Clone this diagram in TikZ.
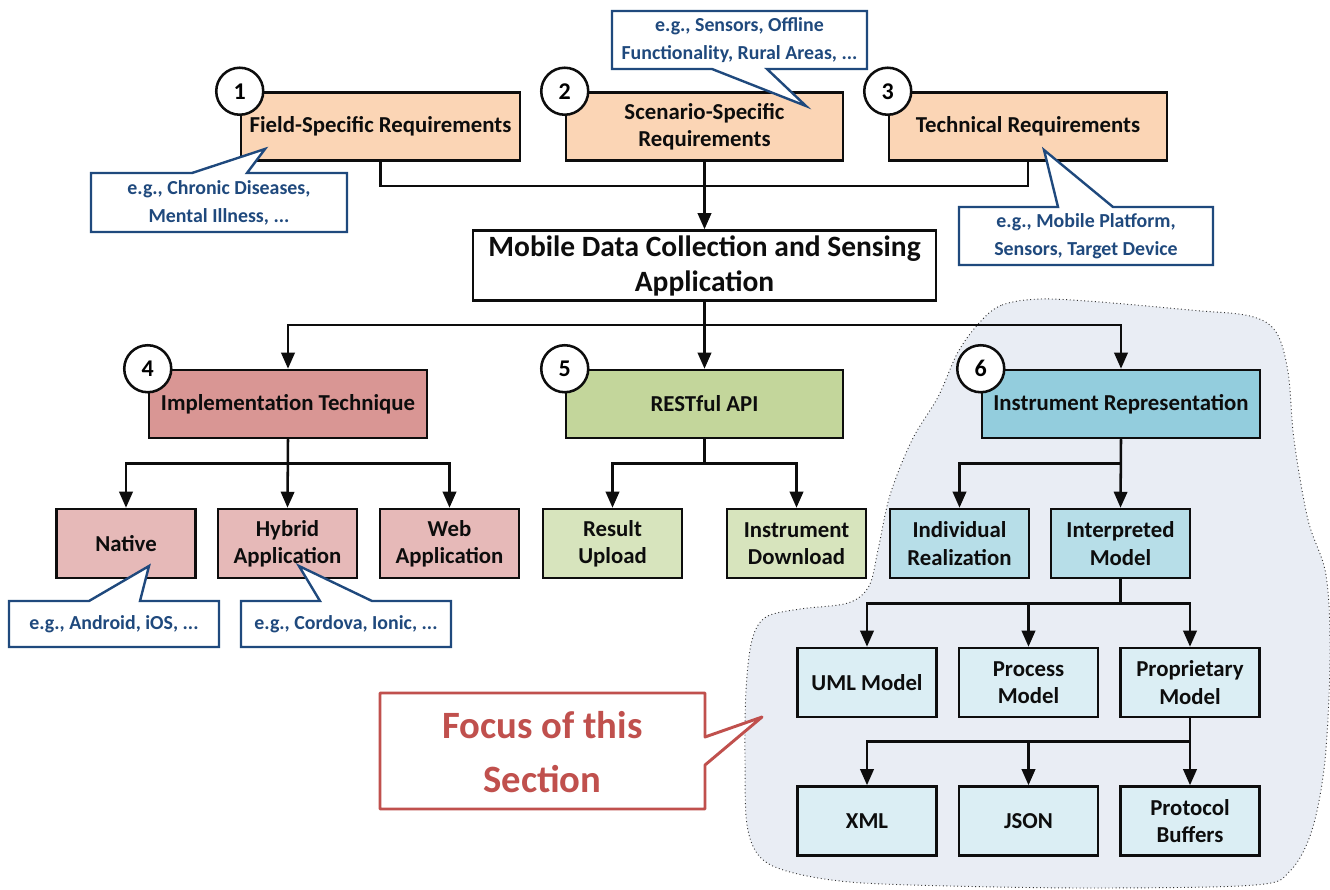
\documentclass[tikz,border=0pt]{standalone}
\usepackage{fontspec}
\setmainfont{Carlito}
\usetikzlibrary{arrows.meta,calc}
\definecolor{req}{HTML}{FBD5B5}
\definecolor{impl}{HTML}{D99694}
\definecolor{impllt}{HTML}{E6B9B8}
\definecolor{rest}{HTML}{C3D69B}
\definecolor{restlt}{HTML}{D7E4BD}
\definecolor{inst}{HTML}{93CDDD}
\definecolor{instlt}{HTML}{B7DEE8}
\definecolor{instxl}{HTML}{DBEEF4}
\definecolor{cloudfill}{HTML}{E9EDF4}
\definecolor{callblue}{HTML}{1F497D}
\definecolor{focusred}{HTML}{C0504D}
\definecolor{boxline}{HTML}{0D0D0D}
\newcommand{\px}{0.75pt}
\tikzset{
  box/.style={draw=boxline, line width=1.9pt, inner sep=0pt, align=center,
    font=\fontsize{17.1}{20.5}\selectfont\bfseries, text=boxline},
  bigbox/.style={box, minimum width=278*\px, minimum height=68*\px},
  smallbox/.style={box, minimum width=139*\px, minimum height=69*\px},
  num/.style={circle, draw=boxline, fill=white, line width=1.9pt, minimum size=47*\px,
    inner sep=0pt, font=\fontsize{18}{18}\selectfont\bfseries},
  conn/.style={draw=boxline, line width=1.9pt},
  arr/.style={conn, -{Triangle[length=12pt,width=10pt]}},
  callshape/.style={draw=callblue, fill=white, line width=1.8pt, line join=miter},
  calltext/.style={text=callblue, align=center, inner sep=0pt,
    font=\fontsize{14.9}{21}\selectfont\bfseries},
}
\begin{document}
\begin{tikzpicture}[x=0.75pt,y=-0.75pt]
\useasboundingbox[fill=white] (0,0) rectangle (1330,889);

% focus cloud
\draw[fill=cloudfill, draw=black!80, line width=0.7pt, dotted]
  plot[smooth cycle, tension=0.55] coordinates {
  (980,322) (1002,305) (1040,299) (1100,302) (1190,310) (1250,316) (1276,332)
  (1288,372) (1294,440) (1308,520) (1326,575) (1330,655) (1325,760) (1312,830)
  (1290,871) (1255,885) (1100,888) (950,886) (850,882) (790,872) (760,857)
  (747,825) (745,760) (746,690) (752,640) (766,617) (800,609) (848,603)
  (869,586) (878,550) (890,495) (912,440) (938,397) (958,352)};

% top requirement boxes
\node[bigbox, fill=req, minimum width=279*\px] (b1) at (380.5,126.5) {Field-Specific Requirements};
\node[bigbox, fill=req, minimum width=277*\px] (b2) at (704.5,126.5) {Scenario-Specific\\Requirements};
\node[bigbox, fill=req] (b3) at (1028,126.5) {Technical Requirements};

\node[box, fill=white, minimum width=463*\px, minimum height=70*\px,
  font=\fontsize{22.1}{26.3}\selectfont\bfseries] (mob) at (704.5,265.5)
  {Mobile Data Collection and Sensing\\Application};

\node[bigbox, fill=impl] (impl) at (288,404) {Implementation Technique};
\node[bigbox, fill=rest, minimum width=277*\px] (rest) at (704.5,404) {RESTful API};
\node[bigbox, fill=inst] (inst) at (1121,404) {Instrument Representation};

\node[smallbox, fill=impllt] (nat) at (126,543.5) {Native};
\node[smallbox, fill=impllt] (hyb) at (287.5,543.5) {Hybrid\\Application};
\node[smallbox, fill=impllt] (web) at (449.5,543.5) {Web\\Application};
\node[smallbox, fill=restlt] (res) at (612.5,543.5) {Result\\Upload};
\node[smallbox, fill=restlt] (dl) at (796.5,543.5) {Instrument\\Download};
\node[smallbox, fill=instlt] (ind) at (959.5,543.5) {Individual\\Realization};
\node[smallbox, fill=instlt] (intp) at (1120.5,543.5) {Interpreted\\Model};

\node[smallbox, fill=instxl] (uml) at (867,682.5) {UML Model};
\node[smallbox, fill=instxl] (proc) at (1028.5,682.5) {Process\\Model};
\node[smallbox, fill=instxl] (prop) at (1190,682.5) {Proprietary\\Model};
\node[smallbox, fill=instxl] (xml) at (867,821) {XML};
\node[smallbox, fill=instxl] (json) at (1028.5,821) {JSON};
\node[smallbox, fill=instxl] (pb) at (1190,821) {Protocol\\Buffers};

% connectors
\draw[conn] (b1.south) -- ++(0,24) -| (b3.south);
\draw[arr] (b2.south) -- (mob.north);
\draw[arr] (mob.south) -- ++(0,23) -| (impl.north);
\draw[arr] (mob.south) -- ++(0,23) -| (inst.north);
\draw[arr] (mob.south) -- (rest.north);

\draw[arr] (impl.south) -- ++(0,24) -| (nat.north);
\draw[arr] (impl.south) -- ++(0,24) -| (web.north);
\draw[arr] (impl.south) -- (hyb.north);

\draw[arr] (rest.south) -- ++(0,24) -| (res.north);
\draw[arr] (rest.south) -- ++(0,24) -| (dl.north);

\draw[arr] (inst.south) -- ++(0,24) -| (ind.north);
\draw[arr] (inst.south) -- (intp.north);

\draw[arr] (intp.south) -- ++(0,24) -| (uml.north);
\draw[arr] (intp.south) -- ++(0,24) -| (proc.north);
\draw[arr] (intp.south) -- ++(0,24) -| (prop.north);

\draw[arr] (prop.south) -- ++(0,23) -| (xml.north);
\draw[arr] (prop.south) -- ++(0,23) -| (json.north);
\draw[arr] (prop.south) -- (pb.north);

% number circles
\node[num] (n1) at (b1.north west) {1};
\node[num] (n2) at (b2.north west) {2};
\node[num] (n3) at (b3.north west) {3};
\node[num] (n4) at (impl.north west) {4};
\node[num] (n5) at (rest.north west) {5};
\node[num] (n6) at (inst.north west) {6};

% callouts
\draw[callshape] (91,173) -- (192,173) -- (265,149) -- (247,173) -- (347,173)
  -- (347,232) -- (91,232) -- cycle;
\node[calltext] (c1) at (219,202.5) {e.g., Chronic Diseases,\\Mental Illness, ...};

\draw[callshape] (612,11) -- (867,11) -- (867,69) -- (767,69) -- (806,106)
  -- (712,69) -- (612,69) -- cycle;
\node[calltext] (c2) at (739.5,40) {e.g., Sensors, Offline\\Functionality, Rural Areas, ...};

\draw[callshape] (959,207) -- (1058,207) -- (1044,150) -- (1113,207) -- (1213,207)
  -- (1213,265) -- (959,265) -- cycle;
\node[calltext] (c3) at (1086,236.5) {e.g., Mobile Platform,\\Sensors, Target Device};

\draw[callshape] (9,601) -- (89,601) -- (149,566) -- (140,601) -- (219,601)
  -- (219,647) -- (9,647) -- cycle;
\node[calltext] (c4) at (114,624.5) {e.g., Android, iOS, ...};

\draw[callshape] (241,601) -- (320,601) -- (299,566) -- (372,601) -- (451,601)
  -- (451,647) -- (241,647) -- cycle;
\node[calltext] (c5) at (346,624.5) {e.g., Cordova, Ionic, ...};

% focus callout
\draw[draw=focusred, fill=white, line width=2.2pt, line join=round]
  (380,693) -- (705,693) -- (705,737) -- (762,717) -- (705,765) -- (705,809)
  -- (380,809) -- cycle;
\node[text=focusred, align=center, inner sep=0pt,
  font=\fontsize{29}{41}\selectfont\bfseries] (focus) at (542.5,752)
  {Focus of this\\Section};
\end{tikzpicture}
\end{document}
